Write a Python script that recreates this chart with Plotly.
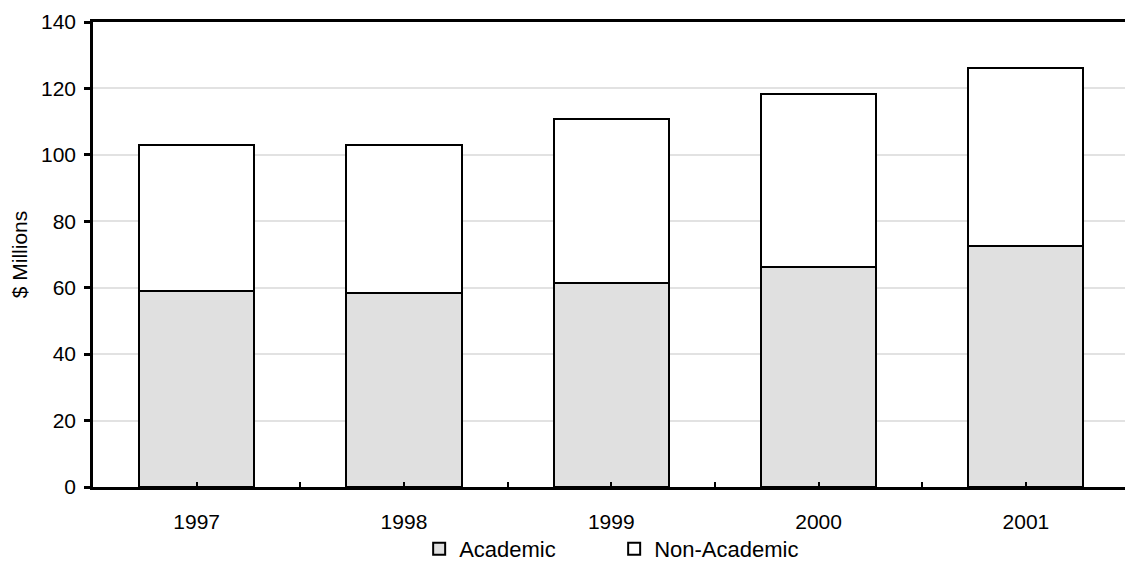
import plotly.graph_objects as go

# Funding by year, in $ millions
years = ["1997", "1998", "1999", "2000", "2001"]
academic = [59.0, 58.3, 61.3, 66.2, 72.5]
non_academic = [44.0, 44.8, 49.5, 52.1, 53.7]
y_ticks = [0, 20, 40, 60, 80, 100, 120, 140]

pos = list(range(len(years)))
boundaries = [p + 0.5 for p in pos[:-1]]
bar_width = 0.555
outline = dict(color="black", width=2)

fig = go.Figure()
fig.add_bar(x=pos, y=academic, name="Academic", width=bar_width,
            marker=dict(color="#e0e0e0", line=outline))
fig.add_bar(x=pos, y=non_academic, name="Non-Academic", width=bar_width,
            marker=dict(color="white", line=outline))

fig.update_layout(
    barmode="stack",
    width=1125, height=566,
    margin=dict(l=93, r=0, t=22, b=79, autoexpand=False),
    plot_bgcolor="white", paper_bgcolor="white",
    font=dict(family="Liberation Sans, Arial, sans-serif", size=21, color="black"),
    legend=dict(orientation="h", x=0.505, xanchor="center", y=-0.133, yanchor="middle",
                traceorder="normal", font=dict(size=22), entrywidth=150,
                bgcolor="rgba(0,0,0,0)"),
)

fig.update_xaxes(
    range=[-0.5, 4.478],
    tickmode="array", tickvals=pos, ticktext=years,
    ticks="inside", ticklen=5, tickwidth=2, tickcolor="black",
    minor=dict(tickvals=boundaries, ticks="inside", ticklen=5, tickwidth=2, tickcolor="black"),
    showline=True, linecolor="black", linewidth=2.5, mirror=True,
    showgrid=False, zeroline=False,
    ticklabelstandoff=14,
    tickfont=dict(size=21),
)

fig.update_yaxes(
    range=[0, 140],
    tickmode="array", tickvals=y_ticks,
    ticks="outside", ticklen=6, tickwidth=2.5, tickcolor="black",
    showline=True, linecolor="black", linewidth=2.5,
    showgrid=True, gridcolor="#e2e2e2", gridwidth=2,
    zeroline=False,
    ticklabelstandoff=4,
    tickfont=dict(size=21),
    title=dict(text="$ Millions", font=dict(size=21), standoff=8),
)

fig.write_html("out.html")
